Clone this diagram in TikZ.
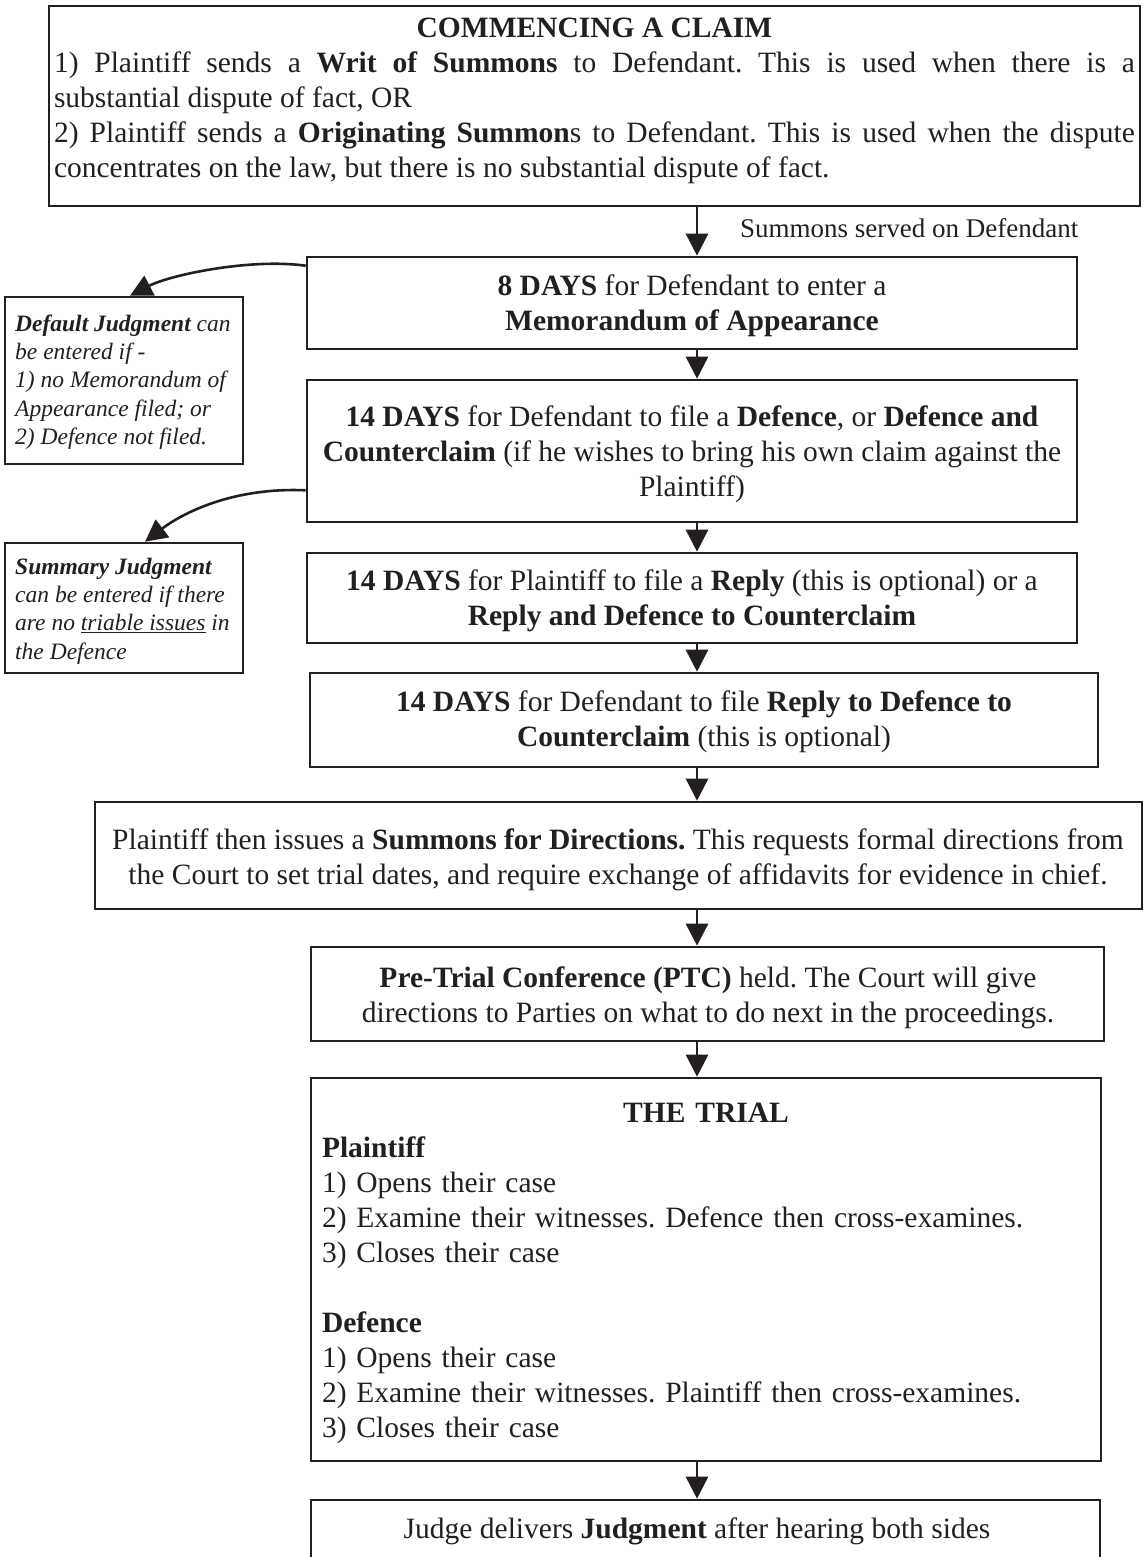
\documentclass[tikz,border=0pt]{standalone}
\usepackage{fontspec}
\setmainfont{Liberation Serif}
\usetikzlibrary{arrows.meta,fit}
\definecolor{ink}{RGB}{35,31,32}
\setlength{\parindent}{0pt}
\frenchspacing
\begin{document}
\begin{tikzpicture}[x=1pt,y=-1pt,
  every node/.style={text=ink},
  boxs/.style={draw=ink, line width=2.6pt, inner sep=0pt, rectangle},
  maintext/.style={inner sep=0pt, font=\fontsize{29.5}{35}\selectfont\frenchspacing, align=center},
  sidetext/.style={inner sep=0pt, font=\fontsize{23.5}{28.3}\selectfont\itshape, align=left, anchor=west},
  arr/.style={draw=ink, line width=2.6pt, -{Triangle[length=22pt,width=22pt]}}]
\useasboundingbox (0,0) rectangle (1146,1557);
\clip (0,0) rectangle (1146,1557);

% boxes
\node[boxs, fit={(49,6) (1140,206)}] (b1) {};
\node[boxs, fit={(5,297) (243,464)}] (db) {};
\node[boxs, fit={(307,257) (1077,349)}] (b2) {};
\node[boxs, fit={(307,380) (1077,522)}] (b3) {};
\node[boxs, fit={(5,543) (243,673)}] (sb) {};
\node[boxs, fit={(307,553) (1077,643)}] (b4) {};
\node[boxs, fit={(310,673) (1098,767)}] (b5) {};
\node[boxs, fit={(95,802) (1142,909)}] (b6) {};
\node[boxs, fit={(311,947) (1104,1041)}] (b7) {};
\node[boxs, fit={(311,1078) (1101,1461)}] (b8) {};
\node[boxs, fit={(311,1500) (1100,1570)}] (b9) {};

% texts
\node[maintext, text width=1081pt, align=justify] (t1) at (594.5,101)
  {{\centering\textbf{COMMENCING A CLAIM}\par}1) Plaintiff sends a \textbf{Writ of Summons} to Defendant. This is used when there is a\linebreak substantial dispute of fact, OR\par
   2) Plaintiff sends a \textbf{Originating Summon}s to Defendant. This is used when the dispute\linebreak concentrates on the law, but there is no substantial dispute of fact.};
\node[inner sep=0pt, font=\fontsize{27}{30}\selectfont, anchor=west] (lab) at (740,228) {Summons served on Defendant};
\node[maintext] (t2) at (692,306) {\textbf{8 DAYS} for Defendant to enter a\\\textbf{Memorandum of Appearance}};
\node[maintext] (t3) at (692,454) {\textbf{14 DAYS} for Defendant to file a \textbf{Defence}, or \textbf{Defence and}\\\textbf{Counterclaim} (if he wishes to bring his own claim against the\\Plaintiff)};
\node[maintext] (t4) at (692,601) {\textbf{14 DAYS} for Plaintiff to file a \textbf{Reply} (this is optional) or a\\\textbf{Reply and Defence to Counterclaim}};
\node[maintext] (t5) at (704,722) {\textbf{14 DAYS} for Defendant to file \textbf{Reply to Defence to}\\\textbf{Counterclaim} (this is optional)};
\node[maintext] (t6) at (618,860) {Plaintiff then issues a \textbf{Summons for Directions.} This requests formal directions from\\the Court to set trial dates, and require exchange of affidavits for evidence in chief.};
\node[maintext] (t7) at (708,998) {\textbf{Pre-Trial Conference (PTC)} held. The Court will give\\directions to Parties on what to do next in the proceedings.};
\node[maintext, text width=768pt, align=left] (t8) at (706,1273)
  {{\centering\textbf{THE TRIAL}\par}\textbf{Plaintiff}\\1) Opens their case\\2) Examine their witnesses. Defence then cross-examines.\\3) Closes their case\\[35pt]\textbf{Defence}\\1) Opens their case\\2) Examine their witnesses. Plaintiff then cross-examines.\\3) Closes their case};
\node[maintext] (t9) at (697,1531) {Judge delivers \textbf{Judgment} after hearing both sides};
\node[sidetext] (dt) at (15,382) {\textbf{Default Judgment} can\\be entered if -\\1) no Memorandum of\\Appearance filed; or\\2) Defence not filed.};
\node[sidetext] (st) at (15,611) {\textbf{Summary Judgment}\\can be entered if there\\are no \underline{triable issues} in\\the Defence};

% connectors
\coordinate (ax) at (697,0);
\draw[arr] (b1.south -| ax) -- (b2.north -| ax);
\draw[arr] (b2.south -| ax) -- (b3.north -| ax);
\draw[arr] (b3.south -| ax) -- (b4.north -| ax);
\draw[arr] (b4.south -| ax) -- (b5.north -| ax);
\draw[arr] (b5.south -| ax) -- (b6.north -| ax);
\draw[arr] (b6.south -| ax) -- (b7.north -| ax);
\draw[arr] (b7.south -| ax) -- (b8.north -| ax);
\draw[arr] (b8.south -| ax) -- (b9.north -| ax);
\draw[arr] ([yshift=-10pt]b2.north west) .. controls (250,258) and (170,275) .. ([xshift=6pt]db.north);
\draw[arr] ([yshift=33pt]b3.south west) .. controls (230,487) and (180,515) .. ([xshift=21pt]sb.north);
\end{tikzpicture}
\end{document}
